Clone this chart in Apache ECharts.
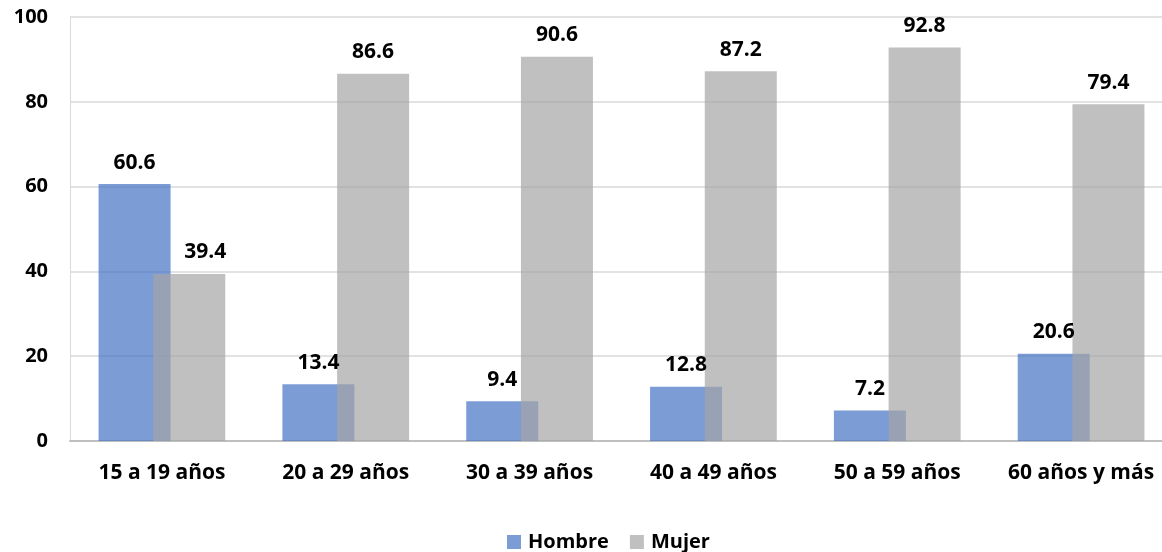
<!DOCTYPE html>
<html>
<head>
<meta charset="utf-8">
<script src="https://cdn.jsdelivr.net/npm/echarts@6/dist/echarts.min.js"></script>
<style>
  html, body { margin: 0; padding: 0; background: #ffffff; overflow: hidden; }
  #chart { width: 1173px; height: 552px; }
</style>
</head>
<body>
<div id="chart"></div>
<script>
// Age groups and shares by sex (%)
const categories = ['15 a 19 años', '20 a 29 años', '30 a 39 años', '40 a 49 años', '50 a 59 años', '60 años y más'];
const hombre = [60.6, 13.4, 9.4, 12.8, 7.2, 20.6];
const mujer = [39.4, 86.6, 90.6, 87.2, 92.8, 79.4];
const seriesNames = ['Hombre', 'Mujer'];

const FONT = '"Open Sans", sans-serif';

const labelStyle = {
  show: true,
  position: 'top',
  distance: 11,
  color: '#000000',
  fontFamily: FONT,
  fontWeight: 'bold',
  fontSize: 21,
  formatter: p => p.value.toFixed(1)
};

// The first "Mujer" label sits beside the taller "Hombre" bar, so nudge it right
const mujerData = mujer.map((v, i) => i === 0 ? { value: v, label: { offset: [16, 0] } } : v);

const chart = echarts.init(document.getElementById('chart'), null, { renderer: 'canvas' });
chart.setOption({
  animation: false,
  backgroundColor: '#ffffff',
  grid: { left: 70, right: 0, top: 17, bottom: 111, containLabel: false },
  legend: {
    data: seriesNames,
    top: 532,
    left: 507,
    padding: 0,
    itemWidth: 14,
    itemHeight: 14,
    itemGap: 21,
    icon: 'rect',
    textStyle: { fontFamily: FONT, fontWeight: 'bold', fontSize: 20, color: '#000000', padding: [0, 0, 0, 2] }
  },
  xAxis: {
    type: 'category',
    data: categories,
    axisTick: { show: false },
    axisLine: { lineStyle: { color: '#bfbfbf', width: 2 } },
    axisLabel: { interval: 0, margin: 22, color: '#000000', fontFamily: FONT, fontWeight: 'bold', fontSize: 21 }
  },
  yAxis: {
    type: 'value',
    min: 0,
    max: 100,
    interval: 20,
    axisLine: { show: true, lineStyle: { color: '#d9d9d9', width: 1 } },
    axisTick: { show: false },
    splitLine: { lineStyle: { color: '#d9d9d9', width: 1.5 } },
    axisLabel: { margin: 22, color: '#000000', fontFamily: FONT, fontWeight: 'bold', fontSize: 20 }
  },
  series: [
    {
      name: seriesNames[0],
      type: 'bar',
      data: hombre,
      barWidth: 72,
      barGap: '-24%',
      itemStyle: { color: 'rgba(68,114,196,0.7)' },
      label: labelStyle
    },
    {
      name: seriesNames[1],
      type: 'bar',
      data: mujerData,
      barWidth: 72,
      barGap: '-24%',
      itemStyle: { color: 'rgba(165,165,165,0.7)' },
      label: labelStyle
    }
  ]
});
</script>
</body>
</html>
